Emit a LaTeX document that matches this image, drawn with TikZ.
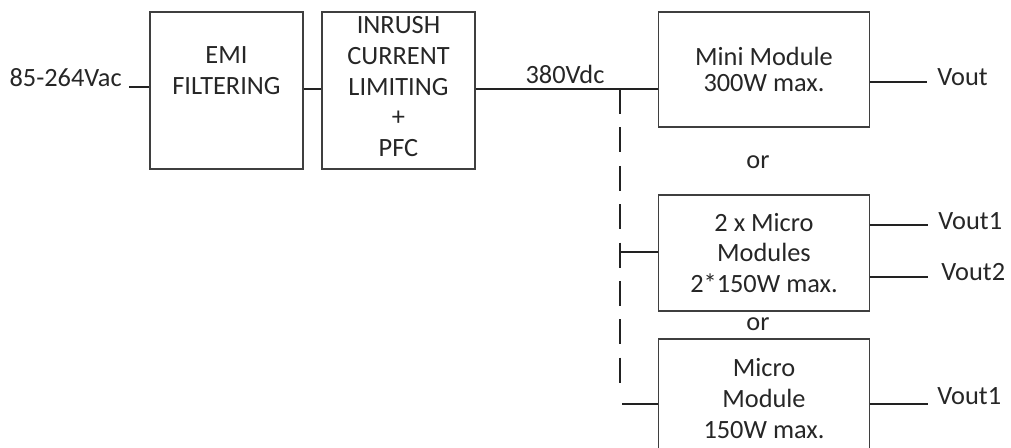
\documentclass[tikz,border=0pt]{standalone}
\usepackage{fontspec}
\setmainfont{Carlito}
\usepackage{tikz}
\usetikzlibrary{positioning,calc}
\usepackage{xcolor}
\definecolor{psuEdge}{HTML}{3F3F3F}
\definecolor{psuWire}{HTML}{222222}
\definecolor{psuText}{HTML}{262626}
\newcommand{\psufont}{\fontsize{15}{17.6}\selectfont}
\tikzset{
    blk/.style={
        draw=psuEdge,line width=0.8pt,inner sep=0pt,
        align=center,text=psuText,font=\psufont
    },
    wire/.style={
        line width=1.4pt,draw=psuWire
    },
    tapline/.style={
        wire,dash pattern=on 14.2pt off 7.65pt
    },
    lbl/.style={
        inner sep=0pt,text=psuText,font=\psufont
    }
}

\begin{document}
\begin{tikzpicture}[x=0.02cm,y=-0.02cm]

\clip (0,0) rectangle (1011,448);

\node[blk,minimum width=3.06cm,minimum height=3.14cm](emi) at (226.5,90.5)
{EMI\\FILTERING\\\strut};

\node[blk,minimum width=3.06cm,minimum height=3.14cm](inr) at (398.5,90.5)
{INRUSH\\CURRENT\\LIMITING\\+\\PFC\\[-13pt]\mbox{}};

\node[blk,minimum width=4.22cm,minimum height=2.30cm,
font={\fontsize{15}{14.4}\selectfont}](mini) at (764,69.5)
{Mini Module\\300W max.};

\node[blk,minimum width=4.22cm,minimum height=2.32cm](dual) at (764,253)
{2 x Micro\\Modules\\2*150W max.};

\node[blk,minimum width=4.22cm,minimum height=2.38cm](micro) at (764,398.5)
{Micro\\Module\\150W max.};

\node[lbl](or1) at (758,162) {or};
\node[lbl](or2) at (758,324) {or};

% input side
\coordinate (vin) at (129,87);
\node[lbl,anchor=base east](vinlbl) at (122,87) {85-264Vac};
\draw[wire](vin)--(emi.west |- vin);
\draw[wire](emi.east |- 0,89)--(inr.west |- 0,89);

% 380V bus and optional branches
\coordinate (tap) at (620,89);
\coordinate (tapend) at (620,390);
\coordinate (brA) at (620,252);
\coordinate (brB) at (622,404);
\node[lbl,anchor=base](buslbl) at (565,84) {380Vdc};
\draw[wire](inr.east |- tap)--(tap)--(tap -| mini.west);
\draw[tapline](tap)--(tapend);
\draw[wire](brA)--(brA -| dual.west);
\draw[wire](brB)--(brB -| micro.west);

% outputs
\coordinate (voA) at (927,82);
\coordinate (voB) at (928,225);
\coordinate (voC) at (928,277);
\coordinate (voD) at (928,404);
\draw[wire](mini.east |- voA)--(voA);
\draw[wire](dual.east |- voB)--(voB);
\draw[wire](dual.east |- voC)--(voC);
\draw[wire](micro.east |- voD)--(voD);
\node[lbl,anchor=base west](voutA) at (937,86) {Vout};
\node[lbl,anchor=base west](voutB) at (938,229.5) {Vout1};
\node[lbl,anchor=base west](voutC) at (941,281) {Vout2};
\node[lbl,anchor=base west](voutD) at (937,405) {Vout1};

\end{tikzpicture}
\end{document}
